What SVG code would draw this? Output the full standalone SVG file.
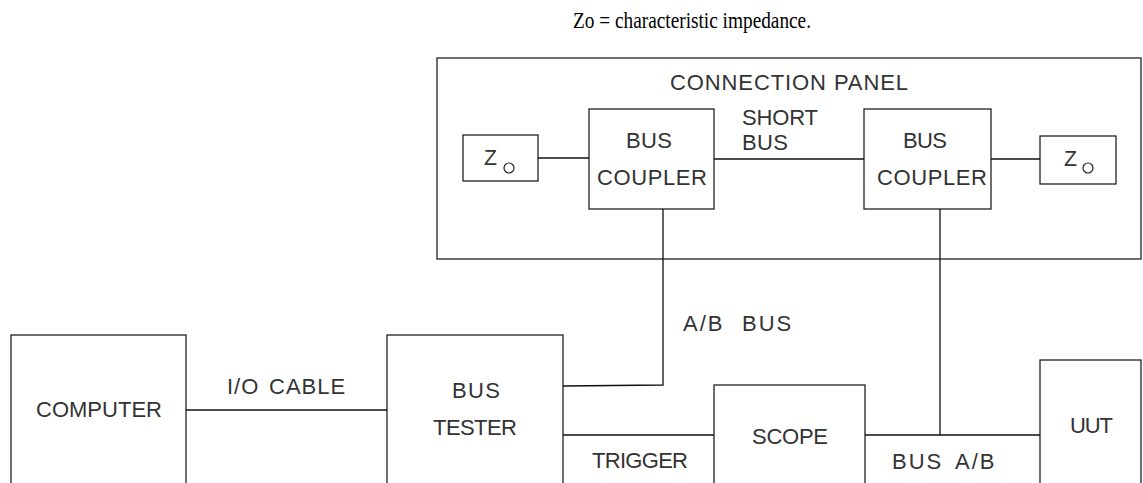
<svg xmlns="http://www.w3.org/2000/svg" width="1143" height="483" viewBox="0 0 1143 483">
  <style>
    .box { fill: none; stroke: #222; stroke-width: 1.3; }
    .wire { fill: none; stroke: #111; stroke-width: 1.3; }
    .lbl { font-family: "Liberation Sans", Arial, sans-serif; font-size: 22px; fill: #333; }
    .sp { letter-spacing: 2px; }
    .sp1 { letter-spacing: 1px; }
    .note { font-family: "Liberation Serif", "Times New Roman", serif; font-size: 23px; fill: #000; }
    .sub { fill: none; stroke: #222; stroke-width: 1.2; }
  </style>
  <rect width="1143" height="483" fill="#fff"/>

  <text class="note" x="573" y="28" textLength="238" lengthAdjust="spacingAndGlyphs">Zo = characteristic impedance.</text>

  <g id="connection-panel">
    <rect class="box" x="437" y="58" width="704" height="201"/>
    <text class="lbl" x="670" y="90" textLength="238" lengthAdjust="spacing">CONNECTION PANEL</text>
  </g>

  <g id="zo-left">
    <rect class="box" x="463" y="135" width="75" height="46"/>
    <text class="lbl" x="484" y="165" textLength="13" lengthAdjust="spacingAndGlyphs">Z</text>
    <circle class="sub" cx="509" cy="168" r="5"/>
  </g>

  <g id="coupler-left">
    <rect class="box" x="589" y="109" width="125" height="100"/>
    <text class="lbl" x="626" y="148" textLength="46" lengthAdjust="spacing">BUS</text>
    <text class="lbl" x="597" y="185" textLength="110" lengthAdjust="spacing">COUPLER</text>
  </g>

  <g id="coupler-right">
    <rect class="box" x="864" y="109" width="127" height="100"/>
    <text class="lbl" x="903" y="148" textLength="44" lengthAdjust="spacing">BUS</text>
    <text class="lbl" x="877" y="185" textLength="110" lengthAdjust="spacing">COUPLER</text>
  </g>

  <g id="zo-right">
    <rect class="box" x="1040" y="136" width="76" height="48"/>
    <text class="lbl" x="1064" y="166" textLength="13" lengthAdjust="spacingAndGlyphs">Z</text>
    <circle class="sub" cx="1088" cy="168" r="5"/>
  </g>

  <g id="computer">
    <rect class="box" x="11" y="335" width="175" height="160"/>
    <text class="lbl" x="36" y="417" textLength="126" lengthAdjust="spacing">COMPUTER</text>
  </g>

  <g id="bus-tester">
    <rect class="box" x="387" y="335" width="176" height="160"/>
    <text class="lbl" x="452" y="398" textLength="48" lengthAdjust="spacing">BUS</text>
    <text class="lbl" x="433" y="435" textLength="84" lengthAdjust="spacing">TESTER</text>
  </g>

  <g id="scope">
    <rect class="box" x="714" y="385" width="151" height="110"/>
    <text class="lbl" x="752" y="444" textLength="76" lengthAdjust="spacing">SCOPE</text>
  </g>

  <g id="uut">
    <rect class="box" x="1040" y="360" width="101" height="135"/>
    <text class="lbl" x="1070" y="433" textLength="43" lengthAdjust="spacing">UUT</text>
  </g>

  <g id="connectors">
    <line class="wire" x1="538" y1="158" x2="589" y2="158"/>
    <line class="wire" x1="714" y1="159" x2="864" y2="159"/>
    <line class="wire" x1="991" y1="159" x2="1040" y2="159"/>
    <polyline class="wire" points="663,209 663,385 563,386"/>
    <line class="wire" x1="940" y1="209" x2="940" y2="435"/>
    <line class="wire" x1="186" y1="410" x2="387" y2="410"/>
    <line class="wire" x1="563" y1="435" x2="714" y2="435"/>
    <line class="wire" x1="865" y1="435" x2="1040" y2="435"/>
    <text class="lbl" x="742" y="125" textLength="76" lengthAdjust="spacing">SHORT</text>
    <text class="lbl" x="742" y="150" textLength="46" lengthAdjust="spacing">BUS</text>
    <text class="lbl sp" y="331"><tspan x="683">A/B</tspan> <tspan x="742">BUS</tspan></text>
    <text class="lbl sp1" y="394"><tspan x="227">I/O</tspan> <tspan x="269">CABLE</tspan></text>
    <text class="lbl" x="592" y="468" textLength="96" lengthAdjust="spacing">TRIGGER</text>
    <text class="lbl sp" y="469"><tspan x="892">BUS</tspan> <tspan x="955">A/B</tspan></text>
  </g>
</svg>
